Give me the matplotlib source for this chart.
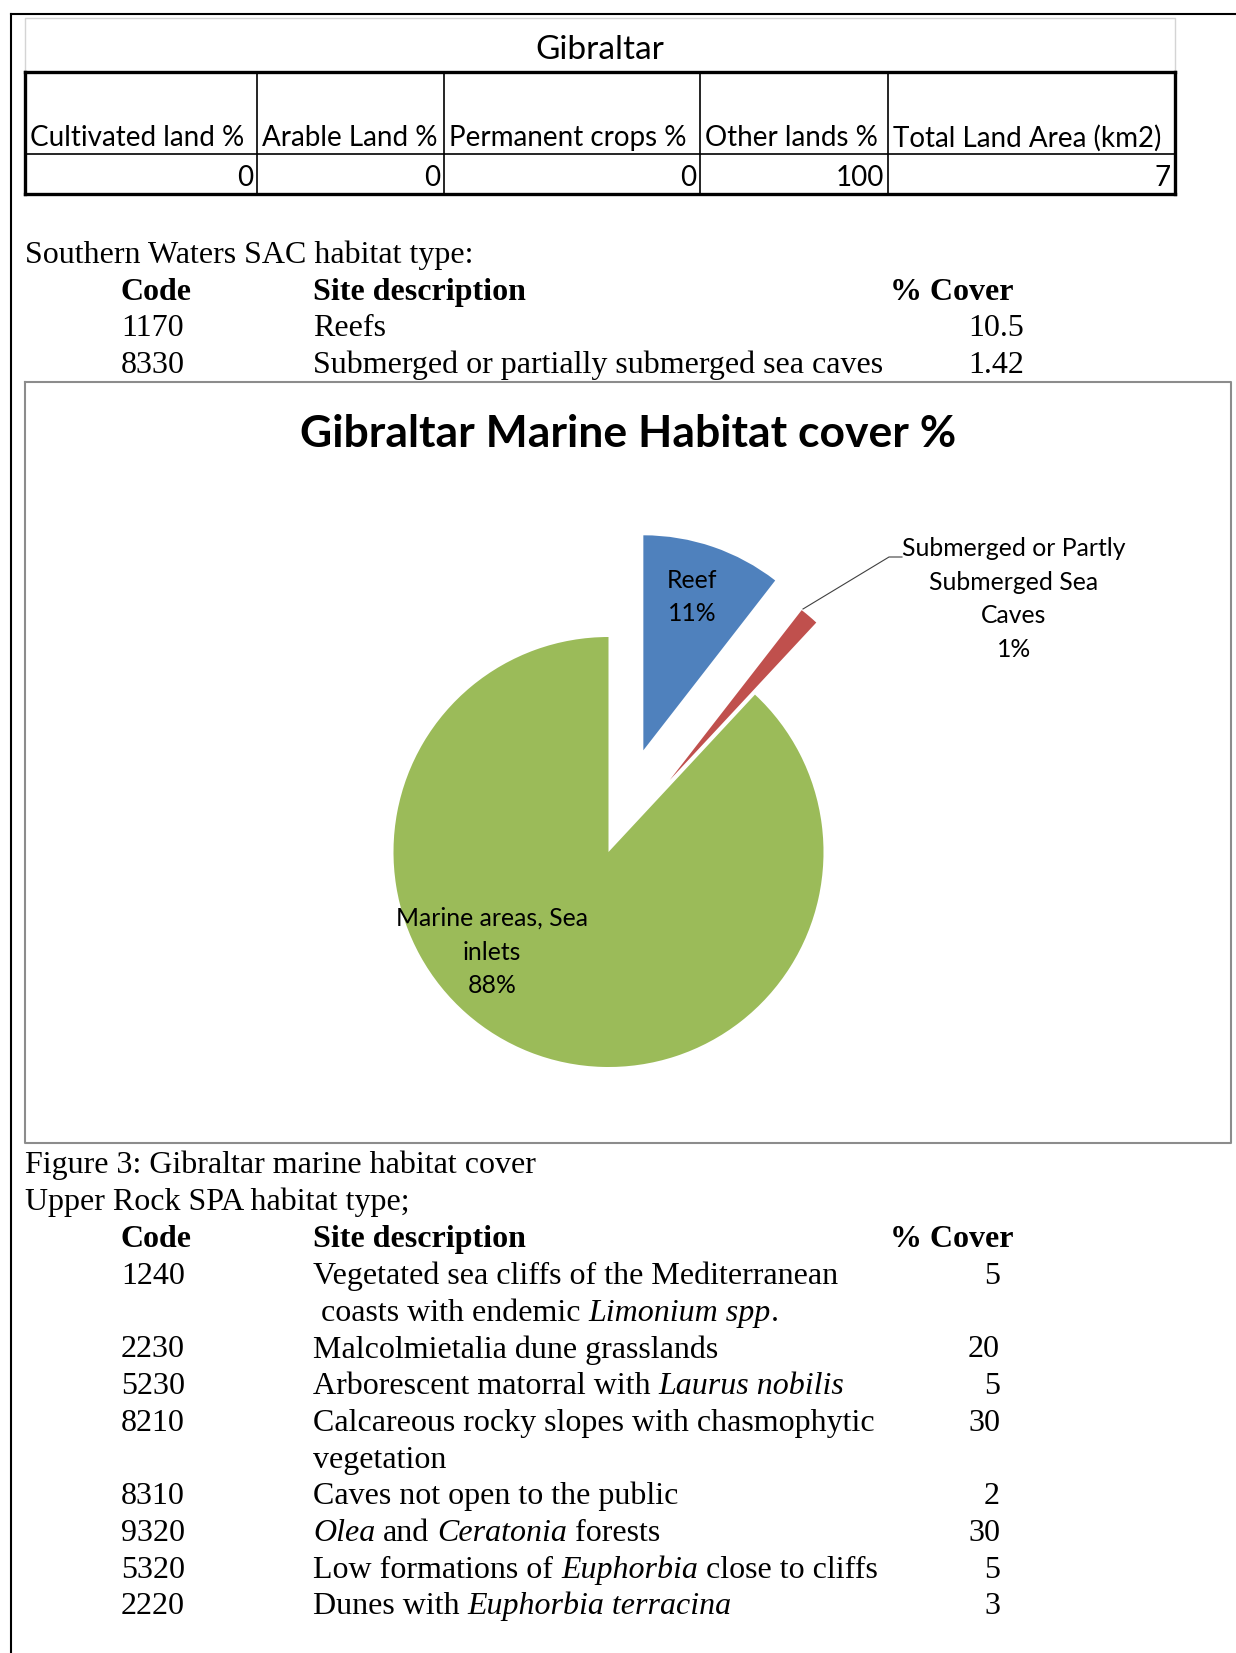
import matplotlib
matplotlib.use("Agg")
import matplotlib.pyplot as plt

W, H = 1236, 1653
SERIF = "Liberation Serif"
SANS = ["Lato", "DejaVu Sans"]

# Gibraltar land-use table
land_title = "Gibraltar"
land_headers = ["Cultivated land %", "Arable Land %", "Permanent crops %",
                "Other lands %", "Total Land Area (km2)"]
land_values = [0, 0, 0, 100, 7]

# Southern Waters SAC
sac_codes = ["1170", "8330"]
sac_desc = ["Reefs", "Submerged or partially submerged sea caves"]
sac_cover = ["10.5", "1.42"]

# pie chart
pie_title = "Gibraltar Marine Habitat cover %"
pie_labels = ["Reef", "Submerged or Partly\nSubmerged Sea\nCaves", "Marine areas, Sea\ninlets"]
pie_values = [10.5, 1.42, 88.0]
pie_colors = ["#4F81BD", "#C0504D", "#9BBB59"]

# Upper Rock SPA; each description = lines of (text, italic) pieces
spa_codes = ["1240", "2230", "5230", "8210", "8310", "9320", "5320", "2220"]
spa_desc = [
    [[("Vegetated sea cliffs of the Mediterranean", False)],
     [(" coasts with endemic", False), ("Limonium spp", True), (".", False)]],
    [[("Malcolmietalia dune grasslands", False)]],
    [[("Arborescent matorral with", False), ("Laurus nobilis", True)]],
    [[("Calcareous rocky slopes with chasmophytic", False)], [("vegetation", False)]],
    [[("Caves not open to the public", False)]],
    [[("Olea", True), ("and", False), ("Ceratonia", True), ("forests", False)]],
    [[("Low formations of", False), ("Euphorbia", True), ("close to cliffs", False)]],
    [[("Dunes with", False), ("Euphorbia terracina", True)]],
]
spa_cover = ["5", "20", "5", "30", "2", "30", "5", "3"]

BODY = 23


def rich(ax, x, y, pieces, size=BODY):
    t = None
    for s, it in pieces:
        style = "italic" if it else "normal"
        if t is None:
            t = ax.text(x, y, s, fontsize=size, style=style, family=SERIF,
                        va="center", ha="left")
        else:
            gap = 0 if s.startswith((".", ",")) else size * 0.25
            t = ax.annotate(s, xy=(1, 0), xycoords=t, xytext=(gap, 0),
                            textcoords="offset points", fontsize=size, style=style,
                            family=SERIF, va="bottom", ha="left")


fig = plt.figure(figsize=(W / 100, H / 100), dpi=100)
pg = fig.add_axes([0, 0, 1, 1])
pg.set_xlim(0, W)
pg.set_ylim(H, 0)
pg.axis("off")
pg.set_zorder(2)

# page border
pg.plot([11, W], [14, 14], color="black", lw=1.5)
pg.plot([11, 11], [14, H], color="black", lw=1.5)

# ---- land table ----
tl, tr = 25, 1175
pg.plot([tl, tl, tr, tr], [72, 18, 18, 72], color="#D4D4D4", lw=1)
pg.text((tl + tr) / 2, 50, land_title, fontsize=24, family=SANS, ha="center", va="center")
pg.plot([tl, tr], [72, 72], color="black", lw=2.4)
pg.plot([tl, tr], [154, 154], color="black", lw=1.2)
pg.plot([tl, tr], [194, 194], color="black", lw=2.4)
pg.plot([tl, tl], [72, 194], color="black", lw=2.4)
pg.plot([tr, tr], [72, 194], color="black", lw=2.4)
col_edges = [tl, 257, 444, 700, 888, tr]
for xe in col_edges[1:-1]:
    pg.plot([xe, xe], [72, 194], color="black", lw=1.2)
for i, (hd, v) in enumerate(zip(land_headers, land_values)):
    pg.text(col_edges[i] + 5, 138, hd, fontsize=20, family=SANS, ha="left", va="center")
    pg.text(col_edges[i + 1] - 4, 177.5, str(v), fontsize=20, family=SANS, ha="right", va="center")

# ---- Southern Waters SAC ----
pg.text(25, 255.5, "Southern Waters SAC habitat type:", fontsize=BODY, family=SERIF, va="center")
for x, s in [(121, "Code"), (313, "Site description"), (890, "% Cover")]:
    pg.text(x, 292.5, s, fontsize=BODY, family=SERIF, weight="bold", va="center")
for i, (c, d, v) in enumerate(zip(sac_codes, sac_desc, sac_cover)):
    y = 328.5 + i * 37
    pg.text(121, y, c, fontsize=BODY, family=SERIF, va="center")
    pg.text(313, y, d, fontsize=BODY, family=SERIF, va="center")
    pg.text(1024, y, v, fontsize=BODY, family=SERIF, va="center", ha="right")

# ---- chart box ----
pg.plot([25, 1231, 1231, 25, 25], [382, 382, 1143, 1143, 382], color="#8C8C8C", lw=1.5)
pg.text(628, 434, pie_title, fontsize=32, family=SANS, weight="bold", ha="center", va="center")

cx, cy, r, L = 608.5, 852, 215, 1.6
side = 2 * L * r
pax = fig.add_axes([(cx - side / 2) / W, (H - cy - side / 2) / H, side / W, side / H])
pax.set_zorder(1)
pax.pie(pie_values, colors=pie_colors, startangle=90, counterclock=False,
        explode=[0.5, 0.44, 0], wedgeprops=dict(linewidth=0))
pax.set_xlim(-L, L)
pax.set_ylim(-L, L)
pax.set_aspect("auto")
pax.axis("off")

total = sum(pie_values)
pcts = [f"{round(v / total * 100):.0f}%" for v in pie_values]
lab_pos = [(692, 597), (1014, 599), (492, 952)]
for (lx, ly), lab, p in zip(lab_pos, pie_labels, pcts):
    pg.text(lx, ly, f"{lab}\n{p}", fontsize=17.8, family=SANS, ha="center", va="center",
            linespacing=1.55)
pg.plot([803, 889, 902], [609, 557, 557], color="#404040", lw=0.8)

# ---- captions and Upper Rock SPA ----
pg.text(25, 1165.5, "Figure 3: Gibraltar marine habitat cover", fontsize=BODY, family=SERIF, va="center")
pg.text(25, 1202.5, "Upper Rock SPA habitat type;", fontsize=BODY, family=SERIF, va="center")
for x, s in [(121, "Code"), (313, "Site description"), (890, "% Cover")]:
    pg.text(x, 1239.5, s, fontsize=BODY, family=SERIF, weight="bold", va="center")

y = 1276.5
for c, lines, v in zip(spa_codes, spa_desc, spa_cover):
    pg.text(121, y, c, fontsize=BODY, family=SERIF, va="center")
    pg.text(1000, y, v, fontsize=BODY, family=SERIF, va="center", ha="right")
    for ln in lines:
        rich(pg, 313, y, ln)
        y += 36.7

fig.savefig("out.png", dpi=100)
